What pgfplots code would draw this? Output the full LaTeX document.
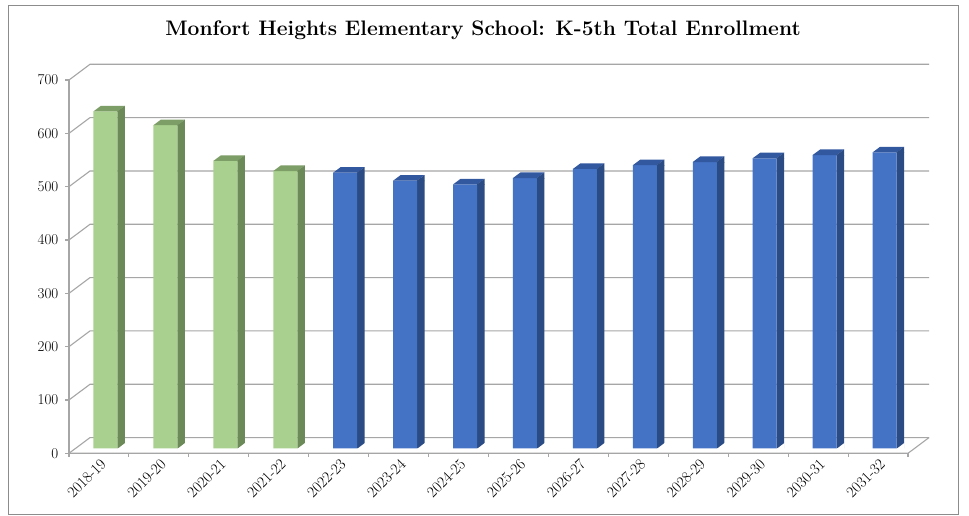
\documentclass[border=0pt]{standalone}
\usepackage{pgfplots}
\usepackage{pgfplotstable}
\pgfplotsset{compat=1.18}
\definecolor{gFront}{HTML}{A9D08E}
\definecolor{gSide}{HTML}{6B8A58}
\definecolor{gTop}{HTML}{7E9E68}
\definecolor{bFront}{HTML}{4472C4}
\definecolor{bSide}{HTML}{2B4B85}
\definecolor{bTop}{HTML}{3258A0}
\definecolor{gridc}{HTML}{A6A6A6}
\pgfdeclareplotmark{topG}{%
  \pgfsetfillcolor{gTop}%
  \pgfpathmoveto{\pgfpoint{-12pt}{0pt}}\pgfpathlineto{\pgfpoint{12pt}{0pt}}%
  \pgfpathlineto{\pgfpoint{19.5pt}{5.6pt}}\pgfpathlineto{\pgfpoint{-4.5pt}{5.6pt}}%
  \pgfpathclose\pgfusepath{fill}%
  \pgfsetfillcolor{gSide}%
  \pgfpathmoveto{\pgfpoint{12pt}{0.2pt}}\pgfpathlineto{\pgfpoint{19.5pt}{5.6pt}}%
  \pgfpathlineto{\pgfpoint{19.5pt}{-0.5pt}}\pgfpathlineto{\pgfpoint{12pt}{-0.5pt}}%
  \pgfpathclose\pgfusepath{fill}}
\pgfdeclareplotmark{topB}{%
  \pgfsetfillcolor{bTop}%
  \pgfpathmoveto{\pgfpoint{-12pt}{0pt}}\pgfpathlineto{\pgfpoint{12pt}{0pt}}%
  \pgfpathlineto{\pgfpoint{19.5pt}{5.6pt}}\pgfpathlineto{\pgfpoint{-4.5pt}{5.6pt}}%
  \pgfpathclose\pgfusepath{fill}%
  \pgfsetfillcolor{bSide}%
  \pgfpathmoveto{\pgfpoint{12pt}{0.2pt}}\pgfpathlineto{\pgfpoint{19.5pt}{5.6pt}}%
  \pgfpathlineto{\pgfpoint{19.5pt}{-0.5pt}}\pgfpathlineto{\pgfpoint{12pt}{-0.5pt}}%
  \pgfpathclose\pgfusepath{fill}}
\pgfdeclareplotmark{botcut}{%
  \pgfsetfillcolor{white}%
  \pgfpathmoveto{\pgfpoint{12pt}{-0.5pt}}\pgfpathlineto{\pgfpoint{20pt}{-0.5pt}}%
  \pgfpathlineto{\pgfpoint{20pt}{5.6pt}}\pgfpathclose\pgfusepath{fill}}

\pgfplotstableread{
x y
0 632
1 606
2 539
3 520
}\greendata
\pgfplotstableread{
x y
4 517
5 502
6 495
7 507
8 524
9 531
10 537
11 544
12 550
13 555
}\bluedata

\begin{document}
\begin{tikzpicture}
\useasboundingbox (0pt,0pt) rectangle (969pt,516pt);
\fill[white] (0pt,0pt) rectangle (969pt,516pt);
\draw[color=black!45, line width=1pt] (8pt,1pt) rectangle (958pt,510.5pt);
\node[font=\bfseries\fontsize{21}{25}\selectfont] at (483pt,486pt) {Monfort Heights Elementary School: K-5th Total Enrollment};
\begin{axis}[
  at={(75.5pt,67.6pt)}, anchor=south west,
  scale only axis, width=839pt, height=373.3pt,
  xmin=-0.5, xmax=13.5, ymin=0, ymax=700,
  axis line style={draw=none},
  major tick length=0pt,
  clip=false,
  xtick={0,...,13},
  xticklabels={2018-19,2019-20,2020-21,2021-22,2022-23,2023-24,2024-25,2025-26,2026-27,2027-28,2028-29,2029-30,2030-31,2031-32},
  ytick={0,100,200,300,400,500,600,700},
  /pgf/number format/assume math mode=true,
  yticklabel style={font=\fontsize{15}{17}\selectfont, anchor=east, inner sep=0pt, xshift=-17pt, yshift=-4.9pt},
  xticklabel style={font=\fontsize{15.5}{17}\selectfont, xshift=-2pt, yshift=-13pt, rotate=45, anchor=east, inner sep=0pt},
]
\pgfplotsinvokeforeach{0,100,200,300,400,500,600,700}{
  \draw[gridc, line width=1.1pt] ([shift={(-6.5pt,-4.9pt)}]axis cs:-0.5,#1) -- ([shift={(14.5pt,10.8pt)}]axis cs:-0.5,#1) -- ([shift={(14.5pt,10.8pt)}]axis cs:13.5,#1);
  \draw[gridc, line width=1.1pt] ([shift={(-6.5pt,-4.9pt)}]axis cs:-0.5,#1) -- ++(-4pt,0pt);
}
\draw[gridc, line width=1.1pt] ([shift={(-6.5pt,-4.9pt)}]axis cs:-0.5,0) -- ([shift={(-6.5pt,-4.9pt)}]axis cs:-0.5,700);
\draw[gridc, line width=1.1pt] ([shift={(-6.5pt,-4.9pt)}]axis cs:-0.5,0) -- ([shift={(-6.5pt,-4.9pt)}]axis cs:13.5,0) -- ([shift={(14.5pt,10.8pt)}]axis cs:13.5,0);
\pgfplotsinvokeforeach{-0.5,0.5,1.5,2.5,3.5,4.5,5.5,6.5,7.5,8.5,9.5,10.5,11.5,12.5,13.5}{
  \draw[gridc, line width=1.1pt] ([shift={(-6.5pt,-4.9pt)}]axis cs:#1,0) -- ++(0pt,-4pt);
}
% side faces
\addplot[ybar, bar width=7.5pt, bar shift=15.75pt, fill=gSide, draw=none] table[x=x,y=y] {\greendata};
\addplot[ybar, bar width=7.5pt, bar shift=15.75pt, fill=bSide, draw=none] table[x=x,y=y] {\bluedata};
% front faces
\addplot[ybar, bar width=24pt, bar shift=0pt, fill=gFront, draw=none] table[x=x,y=y] {\greendata};
\addplot[ybar, bar width=24pt, bar shift=0pt, fill=bFront, draw=none] table[x=x,y=y] {\bluedata};
% top faces
\addplot[only marks, mark=topG] table[x=x,y=y] {\greendata};
\addplot[only marks, mark=topB] table[x=x,y=y] {\bluedata};
% bottom slant of side faces
\addplot[only marks, mark=botcut] table[x=x,y expr=0] {\greendata};
\addplot[only marks, mark=botcut] table[x=x,y expr=0] {\bluedata};
\end{axis}
\end{tikzpicture}
\end{document}
